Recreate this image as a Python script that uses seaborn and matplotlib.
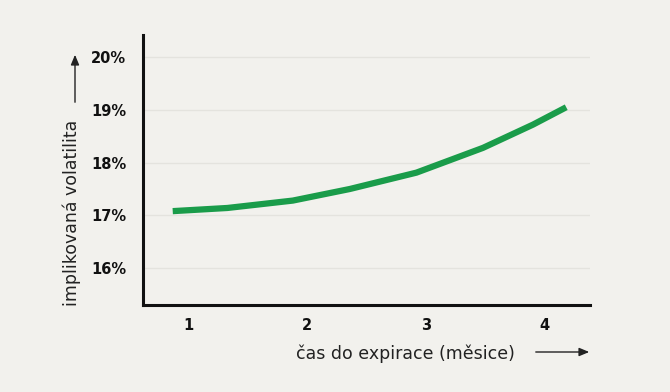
import matplotlib
matplotlib.use("Agg")
import matplotlib.pyplot as plt
import seaborn as sns
import pandas as pd

# data
expiry_months = [0.87, 1.33, 1.88, 2.36, 2.92, 3.48, 3.90, 4.18]
implied_vol = [17.08, 17.14, 17.28, 17.50, 17.81, 18.28, 18.72, 19.05]
y_ticks = [16, 17, 18, 19, 20]
y_tick_labels = ["16%", "17%", "18%", "19%", "20%"]
x_ticks = [1, 2, 3, 4]
x_tick_labels = ["1", "2", "3", "4"]

bg = "#f2f1ed"
green = "#1a9c4a"

sns.set_theme(style="white")
plt.rcParams["font.family"] = ["DejaVu Sans"]

fig = plt.figure(figsize=(6.7, 3.92), dpi=100, facecolor=bg)
ax = fig.add_axes([143 / 670, 1 - 305 / 392, (590 - 143) / 670, (305 - 35) / 392])
ax.set_facecolor(bg)

df = pd.DataFrame({"x": expiry_months, "y": implied_vol})
sns.lineplot(data=df, x="x", y="y", ax=ax, color=green, linewidth=4.5,
             solid_capstyle="butt", solid_joinstyle="round")

ax.set_xlim(0.62, 4.38)
ax.set_ylim(15.3, 20.42)
ax.set_yticks(y_ticks)
ax.set_yticklabels(y_tick_labels, fontsize=10.5, fontweight="bold", color="#111111")
ax.set_xticks(x_ticks)
ax.set_xticklabels(x_tick_labels, fontsize=10.5, fontweight="bold", color="#111111")
ax.tick_params(axis="y", length=0, pad=12)
ax.tick_params(axis="x", length=0, pad=9)
ax.grid(axis="y", color="#e4e3de", linewidth=1)
ax.grid(axis="x", visible=False)
for s in ["top", "right"]:
    ax.spines[s].set_visible(False)
for s in ["left", "bottom"]:
    ax.spines[s].set_color("#111111")
    ax.spines[s].set_linewidth(2.2)
ax.set_xlabel("")
ax.set_ylabel("")

# axis labels with arrows
fig.text(72 / 670, 1 - 213 / 392, "implikovaná volatilita", rotation=90,
         ha="center", va="center", fontsize=12.5, color="#222222")
fig.text(405 / 670, 1 - 354 / 392, "čas do expirace (měsice)",
         ha="center", va="center", fontsize=12.5, color="#222222")
fig.add_artist(matplotlib.patches.FancyArrowPatch(
    (75 / 670, 1 - 105 / 392), (75 / 670, 1 - 52 / 392),
    transform=fig.transFigure, arrowstyle="-|>,head_length=6,head_width=2.5",
    color="#222222", linewidth=1))
fig.add_artist(matplotlib.patches.FancyArrowPatch(
    (533 / 670, 1 - 352 / 392), (592 / 670, 1 - 352 / 392),
    transform=fig.transFigure, arrowstyle="-|>,head_length=6,head_width=2.5",
    color="#222222", linewidth=1))

fig.savefig("out.png", dpi=100, facecolor=bg)
